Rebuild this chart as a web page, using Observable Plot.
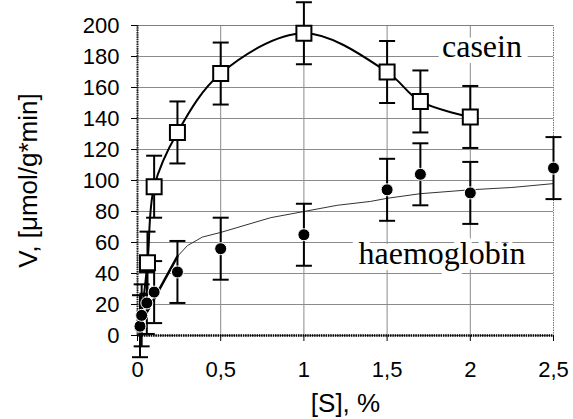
<!DOCTYPE html>
<html>
<head>
<meta charset="utf-8">
<script src="https://cdn.jsdelivr.net/npm/d3@7"></script>
<script src="https://cdn.jsdelivr.net/npm/@observablehq/plot@0.6"></script>
<style>
  html, body { margin: 0; padding: 0; background: #fff; }
  #chart svg { display: block; }
  g[aria-label="y-axis label"], g[aria-label="x-axis label"] { font-size: 26px; }
</style>
</head>
<body>
<div id="chart"></div>
<script>
// ---- data ----
const xTicks = [0, 0.5, 1, 1.5, 2, 2.5];
const yTicks = [0, 20, 40, 60, 80, 100, 120, 140, 160, 180, 200];

const caseinS = [0.06, 0.1, 0.24, 0.5, 1, 1.5, 1.7, 2];
const caseinV = [47, 96, 131, 169, 195, 170, 151, 141];
const caseinErr = [20, 20, 20, 20, 20, 20, 20, 20];

const caseinFitS = [0.01, 0.06, 0.1, 0.24, 0.5, 1, 1.5, 1.7, 2];
const caseinFitV = [0, 47, 96, 131, 169, 195, 170, 151, 141];

const haemoS = [0.015, 0.025, 0.056, 0.1, 0.24, 0.5, 1, 1.5, 1.7, 2, 2.5];
const haemoV = [6, 13, 21, 28, 41, 56, 65, 94, 104, 92, 108];
const haemoErr = [20, 20, 20, 20, 20, 20, 20, 20, 20, 20, 20];

const haemoFitStartS = [0.02, 0.24];
const haemoFitStartV = [8, 51];
const haemoFitS = [0.24, 0.3, 0.39, 0.5, 0.8, 1, 1.2, 1.4, 1.5, 1.7, 2, 2.25, 2.5];
const haemoFitV = [51, 58, 63.5, 66.5, 76, 80, 84, 86.5, 88.5, 91.5, 94, 95.5, 98];

const labels = ["casein", "haemoglobin"];
const labelS = [2.07, 1.83];
const labelV = [186, 53];

// ---- tables ----
const casein = caseinS.map((s, i) => ({s, v: caseinV[i], e: caseinErr[i]}));
const haemo = haemoS.map((s, i) => ({s, v: haemoV[i], e: haemoErr[i]}));
const caseinFit = caseinFitS.map((s, i) => ({s, v: caseinFitV[i]}));
const haemoFitStart = haemoFitStartS.map((s, i) => ({s, v: haemoFitStartV[i]}));
const haemoFit = haemoFitS.map((s, i) => ({s, v: haemoFitV[i]}));
const labelData = labels.map((t, i) => ({t, s: labelS[i], v: labelV[i]}));

const cap = {draw(ctx) { ctx.moveTo(-8, 0); ctx.lineTo(8, 0); }};
const sq = {draw(ctx) { ctx.rect(-7.5, -7.5, 15, 15); }};

const fmt = d => String(d).replace(".", ",");

const errMarks = (data, stroke) => [
  Plot.ruleX(data, {x: "s", y1: d => d.v - d.e, y2: d => d.v + d.e, stroke, strokeWidth: 2}),
  Plot.dot(data, {x: "s", y: d => d.v + d.e, symbol: cap, stroke, strokeWidth: 2}),
  Plot.dot(data, {x: "s", y: d => d.v - d.e, symbol: cap, stroke, strokeWidth: 2})
];

const chart = Plot.plot({
  width: 573,
  height: 419,
  marginLeft: 137,
  marginRight: 20,
  marginTop: 25,
  marginBottom: 84,
  style: {fontFamily: "'Liberation Sans', Arial, sans-serif", fontSize: "22px", color: "#000", background: "#fff"},
  x: {domain: [0, 2.5]},
  y: {domain: [0, 200]},
  marks: [
    Plot.gridY(yTicks.slice(1), {stroke: "#8a8a8a", strokeOpacity: 1, strokeWidth: 1}),
    Plot.gridX(xTicks.slice(1, -1), {stroke: "#8a8a8a", strokeOpacity: 1, strokeWidth: 1}),
    Plot.frame({stroke: "#777", strokeDasharray: "1.5 1"}),
    Plot.ruleX([0], {stroke: "#222", strokeWidth: 2, strokeDasharray: "1.5 0.8"}),
    Plot.ruleY([0], {stroke: "#000", strokeWidth: 2.5, strokeDasharray: "1.5 0.8"}),
    Plot.axisY({ticks: yTicks, tickSize: 6, tickPadding: 12, label: "V, [μmol/g*min]", labelAnchor: "center", labelArrow: false, labelOffset: 119}),
    Plot.axisX({ticks: xTicks, tickSize: 6, tickPadding: 20, tickFormat: fmt, label: "[S], %", labelAnchor: "center", labelArrow: false, labelOffset: 76}),
    Plot.text(labelData, {x: "s", y: "v", text: "t", fontFamily: "'Liberation Serif', 'Times New Roman', serif", fontSize: 32, fill: "#000", stroke: "#fff", strokeWidth: 12, textAnchor: "middle"}),
    Plot.line(haemoFit, {x: "s", y: "v", stroke: "#333", strokeWidth: 1}),
    Plot.line(haemoFitStart, {x: "s", y: "v", stroke: "#000", strokeWidth: 2.5}),
    Plot.line(caseinFit, {x: "s", y: "v", curve: "catmull-rom", stroke: "#000", strokeWidth: 2}),
    ...errMarks(haemo, "#000"),
    ...errMarks(casein, "#000"),
    Plot.dot(haemo, {x: "s", y: "v", r: 6, fill: "#000", stroke: "#fff", strokeWidth: 1}),
    Plot.dot(casein, {x: "s", y: "v", symbol: sq, fill: "#fff", stroke: "#000", strokeWidth: 2})
  ]
});
document.getElementById("chart").appendChild(chart);
</script>
</body>
</html>
